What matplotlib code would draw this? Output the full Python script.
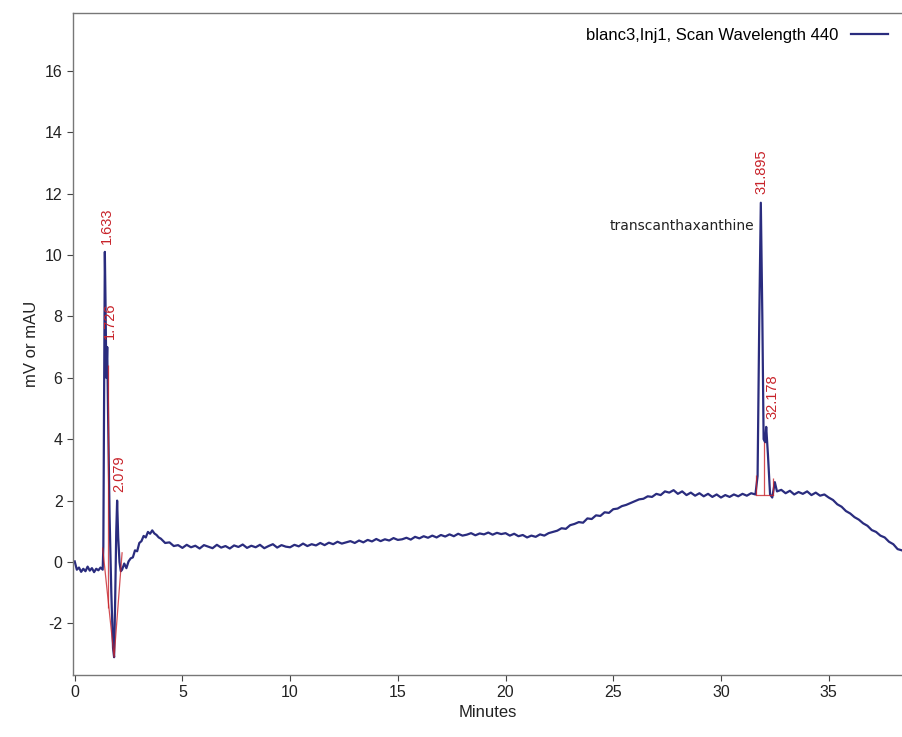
import numpy as np
import matplotlib
matplotlib.use("Agg")
import matplotlib.pyplot as plt

plt.rcParams["axes.unicode_minus"] = False

# chromatogram trace (minutes, mV)
trace_t = [0.0, 0.1, 0.2, 0.3, 0.4, 0.5, 0.6, 0.7, 0.8, 0.9, 1.0, 1.1, 1.2, 1.3,
           1.33, 1.37, 1.40, 1.43, 1.47, 1.51, 1.55, 1.62, 1.70, 1.78, 1.83, 1.88,
           1.93, 1.97, 2.02, 2.08, 2.14, 2.20, 2.3, 2.4, 2.5, 2.6, 2.7, 2.8, 2.9,
           3.0, 3.1, 3.2, 3.3, 3.4, 3.5, 3.6, 3.7, 3.8, 3.9, 4.0, 4.2, 4.4, 4.6,
           4.8, 5.0, 5.2, 5.4, 5.6, 5.8, 6.0, 6.2, 6.4, 6.6, 6.8, 7.0, 7.2, 7.4,
           7.6, 7.8, 8.0, 8.2, 8.4, 8.6, 8.8, 9.0, 9.2, 9.4, 9.6, 9.8, 10.0, 10.2,
           10.4, 10.6, 10.8, 11.0, 11.2, 11.4, 11.6, 11.8, 12.0, 12.2, 12.4, 12.6,
           12.8, 13.0, 13.2, 13.4, 13.6, 13.8, 14.0, 14.2, 14.4, 14.6, 14.8, 15.0,
           15.2, 15.4, 15.6, 15.8, 16.0, 16.2, 16.4, 16.6, 16.8, 17.0, 17.2, 17.4,
           17.6, 17.8, 18.0, 18.2, 18.4, 18.6, 18.8, 19.0, 19.2, 19.4, 19.6, 19.8,
           20.0, 20.2, 20.4, 20.6, 20.8, 21.0, 21.2, 21.4, 21.6, 21.8, 22.0, 22.2,
           22.4, 22.6, 22.8, 23.0, 23.2, 23.4, 23.6, 23.8, 24.0, 24.2, 24.4, 24.6,
           24.8, 25.0, 25.2, 25.4, 25.6, 25.8, 26.0, 26.2, 26.4, 26.6, 26.8, 27.0,
           27.2, 27.4, 27.6, 27.8, 28.0, 28.2, 28.4, 28.6, 28.8, 29.0, 29.2, 29.4,
           29.6, 29.8, 30.0, 30.2, 30.4, 30.6, 30.8, 31.0, 31.2, 31.4, 31.6,
           31.7, 31.78, 31.85, 31.92, 31.98, 32.05, 32.1, 32.18, 32.28, 32.38,
           32.5, 32.6, 32.8, 33.0, 33.2, 33.4, 33.6, 33.8, 34.0, 34.2, 34.4, 34.6,
           34.8, 35.0, 35.2, 35.4, 35.6, 35.8, 36.0, 36.2, 36.4, 36.6, 36.8, 37.0,
           37.2, 37.4, 37.6, 37.8, 38.0, 38.2, 38.4, 38.6]
trace_mv = [0.02, -0.25, -0.18, -0.32, -0.22, -0.30, -0.15, -0.28, -0.20, -0.33, -0.22, -0.27, -0.18, -0.25,
            0.5, 6.0, 10.1, 8.5, 6.0, 7.0, 4.8, 1.5, -1.0, -2.8, -3.1, -1.2,
            1.0, 2.0, 0.8, 0.0, -0.3, -0.25, -0.05, -0.2, 0.02, 0.12, 0.15, 0.38, 0.35,
            0.62, 0.68, 0.85, 0.80, 0.98, 0.92, 1.03, 0.93, 0.88, 0.80, 0.76, 0.62, 0.64, 0.52,
            0.55, 0.46, 0.56, 0.48, 0.53, 0.44, 0.55, 0.50, 0.45, 0.56, 0.47, 0.52, 0.44, 0.54,
            0.49, 0.57, 0.46, 0.53, 0.48, 0.56, 0.45, 0.52, 0.58, 0.47, 0.55, 0.50, 0.48, 0.56,
            0.51, 0.60, 0.52, 0.58, 0.54, 0.62, 0.55, 0.63, 0.58, 0.66, 0.60, 0.64,
            0.68, 0.62, 0.70, 0.64, 0.72, 0.67, 0.75, 0.68, 0.74, 0.70, 0.78, 0.72,
            0.74, 0.79, 0.73, 0.82, 0.77, 0.84, 0.79, 0.86, 0.80, 0.88, 0.83, 0.90,
            0.84, 0.92, 0.86, 0.89, 0.94, 0.87, 0.93, 0.90, 0.96, 0.89, 0.95, 0.91,
            0.94, 0.86, 0.92, 0.84, 0.88, 0.80, 0.86, 0.82, 0.90, 0.86, 0.94, 0.98,
            1.02, 1.10, 1.08, 1.20, 1.24, 1.30, 1.28, 1.42, 1.40, 1.52, 1.50, 1.62,
            1.60, 1.72, 1.74, 1.82, 1.86, 1.92, 1.98, 2.04, 2.06, 2.14, 2.12, 2.22,
            2.18, 2.30, 2.26, 2.34, 2.22, 2.30, 2.18, 2.26, 2.16, 2.24, 2.14, 2.22,
            2.12, 2.20, 2.10, 2.18, 2.12, 2.20, 2.14, 2.22, 2.16, 2.24, 2.20,
            2.8, 8.0, 11.7, 8.0, 4.0, 3.9, 4.4, 3.5, 2.2, 2.1,
            2.6, 2.3, 2.35, 2.24, 2.32, 2.20, 2.28, 2.22, 2.30, 2.18, 2.26, 2.16,
            2.20, 2.10, 2.02, 1.88, 1.80, 1.66, 1.58, 1.46, 1.38, 1.26, 1.18, 1.04,
            0.98, 0.86, 0.80, 0.66, 0.58, 0.42, 0.38, 0.30]
assert len(trace_t) == len(trace_mv)

# integration baselines (red)
base_t = [[1.30, 1.83, 2.20], [31.62, 32.40]]
base_mv = [[0.45, -3.10, 0.30], [2.18, 2.18]]
drop_t = [1.56, 31.62, 32.02, 32.40]
drop_lo = [-1.5, 2.18, 2.18, 2.18]
drop_hi = [6.4, 2.85, 3.9, 2.75]

# peak retention-time labels
peak_labels = ["1.633", "1.726", "2.079", "31.895", "32.178"]
peak_t = [1.48, 1.62, 2.08, 31.90, 32.40]
peak_mv = [10.1, 7.0, 2.0, 11.7, 4.4]

navy = "#2a2c7e"
red = "#c8232a"

fig = plt.figure(figsize=(9.03, 7.37), dpi=100)
ax = fig.add_axes([0.0808, 0.0841, 0.9192, 0.8983])

ax.plot(trace_t, trace_mv, color=navy, lw=1.6, label="blanc3,Inj1, Scan Wavelength 440")
for bt, bm in zip(base_t, base_mv):
    ax.plot(bt, bm, color=red, lw=0.9, alpha=0.8)
ax.vlines(drop_t, drop_lo, drop_hi, color=red, lw=0.9, alpha=0.8)

for lab, pt, pm in zip(peak_labels, peak_t, peak_mv):
    ax.annotate(lab, (pt, pm), xytext=(0, 6), textcoords="offset points",
                rotation=90, ha="center", va="bottom", color=red,
                fontsize=10.5, family="Liberation Sans")

ax.text(31.55, 10.95, "transcanthaxanthine", ha="right", va="center",
        fontsize=10, family="DejaVu Sans", color="#222222")

ax.set_xlim(-0.08, 38.45)
ax.set_ylim(-3.68, 17.88)
ax.set_xticks(np.arange(0, 36, 5))
ax.set_yticks(np.arange(-2, 17, 2))
for lbl in ax.get_xticklabels() + ax.get_yticklabels():
    lbl.set_family("Liberation Sans")
    lbl.set_fontsize(11.5)
ax.tick_params(direction="out", length=4, width=0.8, colors="#444444", labelcolor="#222222")
ax.set_xlabel("Minutes", family="Liberation Sans", fontsize=12, labelpad=3, color="#222222")
ax.set_ylabel("mV or mAU", family="Liberation Sans", fontsize=12, labelpad=4, color="#222222")

ax.spines["right"].set_visible(False)
for s in ["left", "bottom", "top"]:
    ax.spines[s].set_color("#777777")
    ax.spines[s].set_linewidth(1.0)

leg = ax.legend(loc="upper right", bbox_to_anchor=(1.0, 1.0), frameon=False,
                markerfirst=False, handlelength=2.2,
                prop={"family": "Liberation Sans", "size": 12})

fig.savefig("out.png", dpi=100, facecolor="white")
